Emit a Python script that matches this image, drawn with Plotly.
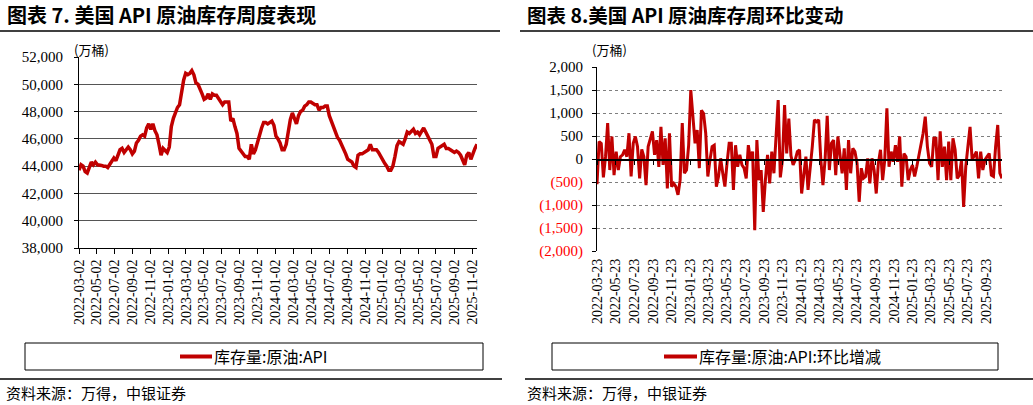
import plotly.graph_objects as go
import pandas as pd

# ---------------- data ----------------
level_start = "2022-03-02"
level_end_range = "2025-11-19"
level_values = [
    43700, 44100, 44000, 43600, 43500, 43900, 44300, 44100, 44300, 44100,
    44100, 44050, 44000, 44000, 43900, 44100, 44300, 44600, 44400, 44800,
    45200, 45300, 45000, 45200, 45400, 45200, 44900, 45100, 45700, 45900,
    46200, 46300, 46200, 46800, 47100, 46700, 47100, 46600, 46300, 45600,
    44800, 45300, 45100, 45000, 45400, 46900, 47500, 47900, 48300, 48500,
    49500, 50300, 50800, 50700, 50800, 51000, 50700, 50100, 50000, 49700,
    49300, 48900, 49000, 49300, 48900, 49300, 49200, 49200, 49000, 48800,
    48500, 48700, 48700, 48700, 47300, 47500, 46900, 46400, 45300, 45100,
    44900, 44700, 44700, 44500, 45600, 44900, 45200, 45800, 46400, 46800,
    47200, 47200, 47100, 47200, 47300, 47000, 46200, 46000, 45700, 45200,
    45200, 45600, 46600, 47400, 47900, 47400, 47100, 47700, 48000, 48100,
    48400, 48500, 48700, 48700, 48600, 48500, 48500, 48100, 48300, 48300,
    48400, 48400, 47700, 47300, 46900, 46400, 46100, 45900, 45600, 45300,
    44900, 44500, 44400, 44300, 44000, 43900, 44800, 44900, 44900, 45000,
    45100, 45200, 45600, 45200, 45200, 45200, 45000, 44700, 44400, 44200,
    44000, 43700, 43700, 44000, 44700, 45500, 45800, 45700, 45600, 46000,
    46500, 46400, 46600, 46700, 46400, 46500, 46300, 46600, 46800, 46500,
    46200, 46000, 45600, 44700, 44700, 45300, 45400, 45500, 45600, 45300,
    45300, 45200, 45100, 45000, 45100, 45000, 44800, 44400, 44100, 44800,
    45000, 44500, 45000, 45300, 45600,
]
level_ticks = [
    "2022-03-02", "2022-05-02", "2022-07-02", "2022-09-02", "2022-11-02",
    "2023-01-02", "2023-03-02", "2023-05-02", "2023-07-02", "2023-09-02",
    "2023-11-02", "2024-01-02", "2024-03-02", "2024-05-02", "2024-07-02",
    "2024-09-02", "2024-11-02", "2025-01-02", "2025-03-02", "2025-05-02",
    "2025-07-02", "2025-09-02", "2025-11-02",
]

change_start = "2022-03-23"
change_values = [
    -550, 380, 340, -400, 50, 780, -240, 490, -350, 160,
    -240, 50, 90, 200, 50, 560, -380, 340, 490, 270,
    -420, 210, 50, -570, 270, 450, 600, 90, 410, -170,
    700, -130, 450, -640, 560, -600, -530, -600, -780, -460,
    780, -310, -240, 300, 1500, 920, 340, 630, -200, 1060,
    990, 560, -380, -20, 270, 300, -600, -380, 15, -310,
    -600, -90, 340, 340, -670, 300, -170, 90, -130, -200,
    -420, 300, -20, 160, -1550, 410, -460, -240, -1150, -460,
    90, -530, 160, -310, 490, 1280, -400, -20, 1170, 120,
    880, 70, -130,
    -20, 160, 200, -750, -380, 50, -670, -240, 270, 850,
    810, 850, -20, -570, -20, 940, -240, 340, 410, -350,
    490, 90, -310, 230, -670, 410, -310, 230, 160, -90,
    -930, -200, -420, -380, 15, -530, 15, -240, -750, -90,
    200, -460, -20, 1100, -170, 160, -60, 300, -60, 490,
    -600, 120, 50, -460, -240, -130, -380, -170, 50, 270,
    560, 920, 270, -90, -170, 450, 450, -460, 600, -170,
    270, -460, 380, -460, 450, 200, -420, -350, -20, -1040,
    -170, 270, 700, -20, 90, 160, -420, 160, -240, -20,
    50, 120, -350, -380, 270, 740, -310, -420,
]
change_ticks = [
    "2022-03-23", "2022-05-23", "2022-07-23", "2022-09-23", "2022-11-23",
    "2023-01-23", "2023-03-23", "2023-05-23", "2023-07-23", "2023-09-23",
    "2023-11-23", "2024-01-23", "2024-03-23", "2024-05-23", "2024-07-23",
    "2024-09-23", "2024-11-23", "2025-01-23", "2025-03-23", "2025-05-23",
    "2025-07-23", "2025-09-23",
]
change_tickvals = [2000, 1500, 1000, 500, 0, -500, -1000, -1500, -2000]

left_title = "图表 7. 美国 API 原油库存周度表现"
right_title = "图表 8.美国 API 原油库存周环比变动"
unit_label = "(万桶)"
left_legend = "库存量:原油:API"
right_legend = "库存量:原油:API:环比增减"
source_text = "资料来源：万得，中银证券"

# ---------------- layout helpers ----------------
W, H = 1033, 405
RED = "#C00000"
SERIF = "Liberation Serif, Times New Roman, serif"
CJK = "Noto Sans CJK SC"


def px(x):
    return x / W


def py(y):
    return 1 - y / H


level_dates = pd.date_range(level_start, periods=len(level_values), freq="7D")
change_dates = pd.date_range(change_start, periods=len(change_values), freq="7D")


def fmt_change(v):
    if v < 0:
        return '<span style="color:#FF0000">({:,})</span>'.format(-v)
    return "{:,}".format(v)


fig = go.Figure()
fig.add_trace(go.Scatter(x=level_dates, y=level_values, mode="lines",
                         line=dict(color=RED, width=3.5), xaxis="x", yaxis="y",
                         showlegend=False, hoverinfo="skip"))
fig.add_trace(go.Scatter(x=change_dates, y=change_values, mode="lines",
                         line=dict(color=RED, width=3), xaxis="x2", yaxis="y2",
                         showlegend=False, hoverinfo="skip"))
# helper trace so the zero-line axis (x3) is drawn
fig.add_trace(go.Scatter(x=[change_dates[0]], y=[None], mode="lines",
                         xaxis="x3", yaxis="y2", showlegend=False, hoverinfo="skip"))

ly0, ly1 = py(248), py(57)
ry0, ry1 = py(251), py(67)

fig.update_layout(
    template="none",
    width=W, height=H,
    margin=dict(l=0, r=0, t=0, b=0, pad=0, autoexpand=False),
    paper_bgcolor="white", plot_bgcolor="white",
    showlegend=False,
    xaxis=dict(
        domain=[px(79), px(477)], anchor="y", type="date", automargin=False,
        range=[level_dates[0], level_end_range],
        tickvals=level_ticks, ticktext=level_ticks, tickangle=-90,
        ticks="outside", ticklen=5, tickcolor="black", tickwidth=1,
        showline=True, linecolor="black", linewidth=1,
        showgrid=False, zeroline=False,
        tickfont=dict(family=SERIF, size=14, color="black"),
    ),
    yaxis=dict(
        domain=[ly0, ly1], anchor="x", automargin=False,
        range=[38000, 52000], dtick=2000, tick0=38000, tickformat=",d",
        ticks="outside", ticklen=4, tickcolor="black",
        showline=True, linecolor="black", linewidth=1,
        showgrid=True, gridcolor="#555555", gridwidth=1, zeroline=False,
        tickfont=dict(family=SERIF, size=15, color="black"),
        ticklabelstandoff=8,
    ),
    xaxis2=dict(
        domain=[px(597), px(1002)], anchor="y2", type="date", automargin=False,
        range=[change_dates[0], change_dates[-1]],
        tickvals=change_ticks, ticktext=change_ticks, tickangle=-90,
        ticks="", showline=False, showgrid=False, zeroline=False,
        tickfont=dict(family=SERIF, size=14, color="black"),
        ticklabelstandoff=4,
    ),
    xaxis3=dict(
        overlaying="x2", anchor="free", position=(ry0 + ry1) / 2, type="date",
        automargin=False,
        range=[change_dates[0], change_dates[-1]],
        tickvals=change_ticks, showticklabels=False,
        ticks="outside", ticklen=4, tickcolor="black",
        showline=True, linecolor="black", linewidth=1.5,
        showgrid=False, zeroline=False,
    ),
    yaxis2=dict(
        domain=[ry0, ry1], anchor="x2", automargin=False,
        range=[-2000, 2000],
        tickvals=change_tickvals, ticktext=[fmt_change(v) for v in change_tickvals],
        ticks="outside", ticklen=4, tickcolor="black",
        showline=True, linecolor="black", linewidth=1,
        showgrid=True, gridcolor="#7f7f7f", gridwidth=1, griddash="dot",
        zeroline=False,
        tickfont=dict(family=SERIF, size=15, color="black"),
        ticklabelstandoff=6,
    ),
)

shapes = []
# title rules
shapes.append(dict(type="line", xref="paper", yref="paper", x0=px(0), x1=px(500),
                   y0=py(31), y1=py(31), line=dict(color="black", width=1.5)))
shapes.append(dict(type="line", xref="paper", yref="paper", x0=px(520), x1=px(1033),
                   y0=py(31), y1=py(31), line=dict(color="black", width=1.5)))
# bottom rules
shapes.append(dict(type="line", xref="paper", yref="paper", x0=px(0), x1=px(502),
                   y0=py(379), y1=py(379), line=dict(color="black", width=1.5)))
shapes.append(dict(type="line", xref="paper", yref="paper", x0=px(525), x1=px(1033),
                   y0=py(379), y1=py(379), line=dict(color="black", width=1.5)))
# legend boxes
shapes.append(dict(type="rect", xref="paper", yref="paper", x0=px(25), x1=px(483),
                   y0=py(370), y1=py(343), line=dict(color="black", width=1)))
shapes.append(dict(type="rect", xref="paper", yref="paper", x0=px(552), x1=px(998),
                   y0=py(370), y1=py(343), line=dict(color="black", width=1)))
# legend swatches
shapes.append(dict(type="line", xref="paper", yref="paper", x0=px(180), x1=px(212),
                   y0=py(356.5), y1=py(356.5), line=dict(color=RED, width=4)))
shapes.append(dict(type="line", xref="paper", yref="paper", x0=px(664), x1=px(697),
                   y0=py(356.5), y1=py(356.5), line=dict(color=RED, width=4)))
fig.update_layout(shapes=shapes)

ann = []


def text(x, y, s, size, xanchor="left", bold=False, family=CJK):
    ann.append(dict(x=px(x), y=py(y), xref="paper", yref="paper",
                    text=("<b>%s</b>" % s) if bold else s, showarrow=False,
                    xanchor=xanchor, yanchor="middle",
                    font=dict(family=family, size=size, color="black")))


text(5, 15, left_title, 20, bold=True)
text(525, 15, right_title, 19.5, bold=True)
text(91, 49, unit_label, 13, xanchor="center")
text(609, 49, unit_label, 13, xanchor="center")
text(212, 356, left_legend, 16)
text(697, 356, right_legend, 16)
text(4, 392, source_text, 15)
text(525, 392, source_text, 15)
fig.update_layout(annotations=ann)

fig.write_html(
    "out.html",
    config={"displayModeBar": False, "staticPlot": True},
    post_script="document.documentElement.style.margin='0';"
                "document.body.style.margin='0';"
                "document.body.style.padding='0';"
                "document.body.style.overflow='hidden';",
)
